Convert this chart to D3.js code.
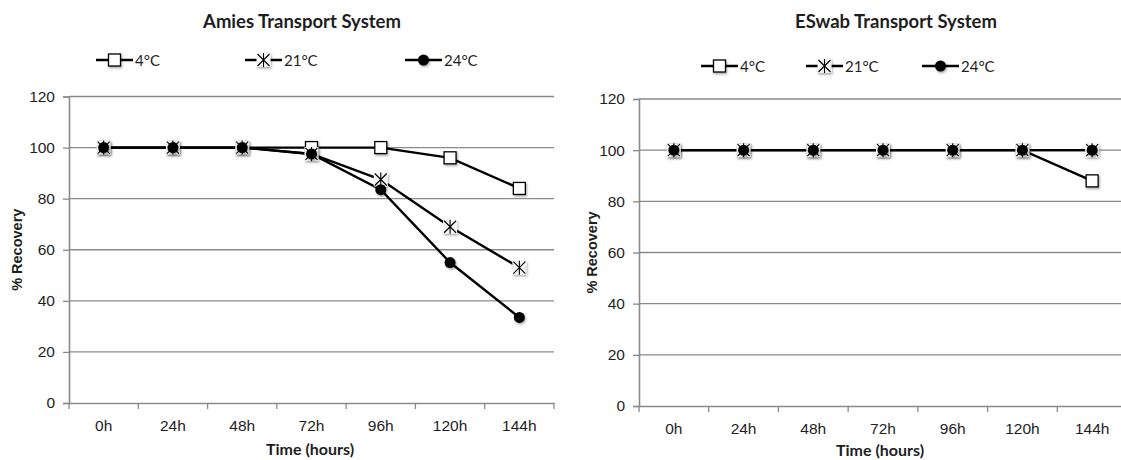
<!DOCTYPE html>
<html>
<head>
<meta charset="utf-8">
<script src="https://cdn.jsdelivr.net/npm/d3@7"></script>
<style>
  body { margin: 0; background: #fff; }
  svg { display: block; font-family: Lato, "Open Sans", sans-serif; }
</style>
</head>
<body>
<svg id="chart" width="1121" height="460"></svg>
<script>
// ── Data ──
const hours = ["0h", "24h", "48h", "72h", "96h", "120h", "144h"];
const seriesNames = ["4°C", "21°C", "24°C"];
const markerTypes = ["square", "star", "circle"];
const yTicks = [0, 20, 40, 60, 80, 100, 120];

const amies4 = [100, 100, 100, 100, 100, 96, 84];
const amies21 = [100, 100, 100, 97.5, 87.5, 69, 53];
const amies24 = [100, 100, 100, 97.5, 83.5, 55, 33.5];

const eswab4 = [100, 100, 100, 100, 100, 100, 88];
const eswab21 = [100, 100, 100, 100, 100, 100, 100];
const eswab24 = [100, 100, 100, 100, 100, 100, 100];

const svg = d3.select("#chart");
const gridColor = "#8a8a8a";
const textColor = "#1e1e1e";

// soft shadow like the spreadsheet markers
const defs = svg.append("defs");
defs.append("filter")
    .attr("id", "shadow")
    .attr("x", "-50%").attr("y", "-50%").attr("width", "200%").attr("height", "200%")
    .append("feDropShadow")
    .attr("dx", 1).attr("dy", 1.5).attr("stdDeviation", 1.2)
    .attr("flood-color", "#000").attr("flood-opacity", 0.35);

function drawMarker(g, type, x, y) {
    if (type === "square") {
        g.append("rect")
            .attr("x", x - 6).attr("y", y - 6)
            .attr("width", 12).attr("height", 12)
            .attr("fill", "#fff").attr("stroke", "#000").attr("stroke-width", 1.3)
            .attr("filter", "url(#shadow)");
    } else if (type === "star") {
        g.append("rect")
            .attr("x", x - 7).attr("y", y - 7)
            .attr("width", 14).attr("height", 14)
            .attr("fill", "#f4f4f4")
            .attr("filter", "url(#shadow)");
        g.append("path")
            .attr("d", `M${x - 6},${y - 6}L${x + 6},${y + 6}M${x + 6},${y - 6}L${x - 6},${y + 6}M${x},${y - 7}L${x},${y + 7}`)
            .attr("stroke", "#000").attr("stroke-width", 1.1).attr("fill", "none");
    } else {
        g.append("circle")
            .attr("cx", x).attr("cy", y).attr("r", 5.5)
            .attr("fill", "#000")
            .attr("filter", "url(#shadow)");
    }
}

function drawPanel(opts) {
    const { title, series, x0, x1, yTop, yBottom, titleY, legendY, legendX, yLabelX, xLabelY } = opts;

    const x = d3.scaleBand().domain(hours).range([x0, x1]);
    const y = d3.scaleLinear().domain([0, 120]).range([yBottom, yTop]);
    const g = svg.append("g");

    // ── Gridlines ──
    g.selectAll("line.grid")
        .data(yTicks.filter(d => d > 0))
        .join("line")
        .attr("x1", x0).attr("x2", x1)
        .attr("y1", d => y(d)).attr("y2", d => y(d))
        .attr("stroke", gridColor).attr("stroke-width", 1.3);

    // ── Y axis ──
    const yAxis = g.append("g")
        .attr("transform", `translate(${x0},0)`)
        .call(d3.axisLeft(y).tickValues(yTicks).tickSize(6).tickPadding(8));
    yAxis.select(".domain").attr("stroke", gridColor).attr("stroke-width", 1.6);
    yAxis.selectAll(".tick line").attr("stroke", gridColor).attr("stroke-width", 1.3);
    yAxis.selectAll(".tick text").attr("fill", textColor).style("font-size", "15.5px");

    // ── X axis (ticks sit on the category boundaries) ──
    const xAxis = g.append("g")
        .attr("transform", `translate(0,${yBottom})`)
        .call(d3.axisBottom(x).tickSize(0).tickPadding(17));
    xAxis.select(".domain").attr("stroke", gridColor).attr("stroke-width", 1.6);
    xAxis.selectAll(".tick text").attr("fill", textColor).style("font-size", "15.5px");
    const bounds = hours.map(h => x(h)).concat([x1]);
    g.selectAll("line.xtick")
        .data(bounds)
        .join("line")
        .attr("x1", d => d).attr("x2", d => d)
        .attr("y1", yBottom).attr("y2", yBottom + 6)
        .attr("stroke", gridColor).attr("stroke-width", 1.3);

    // ── Axis titles ──
    g.append("text")
        .attr("x", opts.xLabelX).attr("y", xLabelY)
        .attr("text-anchor", "middle")
        .attr("fill", textColor).style("font-size", "16px").style("font-weight", "bold")
        .text("Time (hours)");
    g.append("text")
        .attr("transform", `translate(${yLabelX},${(yTop + yBottom) / 2}) rotate(-90)`)
        .attr("text-anchor", "middle")
        .attr("fill", textColor)
        .style("font-family", "'Liberation Sans', Arial, sans-serif")
        .style("font-size", "14.5px").style("font-weight", "bold")
        .text("% Recovery");

    // ── Chart title ──
    g.append("text")
        .attr("x", opts.titleX).attr("y", titleY)
        .attr("text-anchor", "middle")
        .attr("fill", textColor).style("font-size", "18.5px").style("font-weight", "bold")
        .text(title);

    // ── Series ──
    const line = d3.line()
        .x((d, i) => x(hours[i]) + x.bandwidth() / 2)
        .y(d => y(d));
    series.forEach((vals) => {
        g.append("path")
            .datum(vals)
            .attr("d", line)
            .attr("fill", "none").attr("stroke", "#000").attr("stroke-width", 2.4);
    });
    series.forEach((vals, k) => {
        const mg = g.append("g");
        vals.forEach((v, i) => drawMarker(mg, markerTypes[k], x(hours[i]) + x.bandwidth() / 2, y(v)));
    });

    // ── Legend ──
    seriesNames.forEach((name, k) => {
        const lx = legendX[k];
        g.append("line")
            .attr("x1", lx).attr("x2", lx + 37)
            .attr("y1", legendY).attr("y2", legendY)
            .attr("stroke", "#000").attr("stroke-width", 2.4);
        drawMarker(g, markerTypes[k], lx + 18.5, legendY);
        g.append("text")
            .attr("x", lx + 39).attr("y", legendY + 5.5)
            .attr("fill", textColor).style("font-size", "15px")
            .text(name);
    });
}

drawPanel({
    title: "Amies Transport System",
    series: [amies4, amies21, amies24],
    x0: 69, x1: 554, yTop: 96.5, yBottom: 403,
    titleX: 302, titleY: 28, legendY: 60,
    legendX: [96, 245, 405], yLabelX: 22,
    xLabelX: 310, xLabelY: 455
});

drawPanel({
    title: "ESwab Transport System",
    series: [eswab4, eswab21, eswab24],
    x0: 639, x1: 1127, yTop: 99, yBottom: 406,
    titleX: 896, titleY: 28, legendY: 66,
    legendX: [701, 806, 922], yLabelX: 597,
    xLabelX: 880, xLabelY: 456
});
</script>
</body>
</html>
